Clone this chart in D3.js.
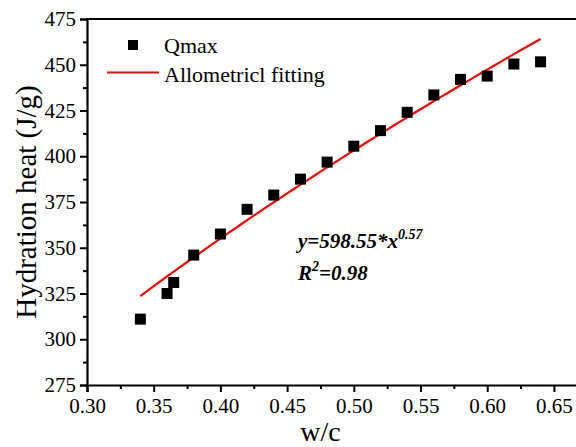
<!DOCTYPE html>
<html>
<head>
<meta charset="utf-8">
<script src="https://cdn.jsdelivr.net/npm/d3@7"></script>
<style>
  html, body { margin: 0; padding: 0; background: #fff; }
  svg { display: block; }
  svg text { font-family: "Liberation Serif", "Times New Roman", serif !important; fill: #000; }
</style>
</head>
<body>
<script>
// Water/cement ratio and the measured maximum hydration heat
const wc = [0.34, 0.36, 0.365, 0.38, 0.40, 0.42, 0.44, 0.46, 0.48, 0.50, 0.52, 0.54, 0.56, 0.58, 0.60, 0.62, 0.64];
const qmax = [311, 325, 331, 346, 357.5, 371, 378.8, 387.5, 396.8, 405.5, 414, 424, 433.5, 442, 443.8, 450.4, 451.6];

// Allometric fit y = a * x^b
const fitA = 598.55;
const fitB = 0.57;
const fitR2 = 0.98;
const fitRange = [0.34, 0.64];

const xTicks = [0.30, 0.35, 0.40, 0.45, 0.50, 0.55, 0.60, 0.65];
const yTicks = [275, 300, 325, 350, 375, 400, 425, 450, 475];

const W = 576, H = 447;
const FONT = "'Liberation Serif', 'Times New Roman', serif";
const svg = d3.select("body").append("svg").attr("width", W).attr("height", H)
  .attr("font-family", FONT);

const x = d3.scaleLinear().domain([0.30, 0.67]).range([87, 580.6]);
const y = d3.scaleLinear().domain([275, 475]).range([385, 19]);

// minor ticks
const xMinor = d3.range(0.325, 0.67, 0.05);
const yMinor = d3.range(287.5, 475, 25);

const gx = svg.append("g").attr("transform", `translate(0,${y(275)})`);
gx.call(d3.axisBottom(x).tickValues(xTicks).tickFormat(d3.format(".2f")).tickSize(7).tickPadding(6));
const gxm = svg.append("g").attr("transform", `translate(0,${y(275)})`);
gxm.call(d3.axisBottom(x).tickValues(xMinor).tickFormat("").tickSize(4));
gxm.select(".domain").remove();

const gy = svg.append("g").attr("transform", `translate(${x(0.30)},0)`);
gy.call(d3.axisLeft(y).tickValues(yTicks).tickSize(7).tickPadding(4));
const gym = svg.append("g").attr("transform", `translate(${x(0.30)},0)`);
gym.call(d3.axisLeft(y).tickValues(yMinor).tickFormat("").tickSize(4));
gym.select(".domain").remove();

svg.selectAll("g").attr("font-family", FONT);
svg.selectAll(".domain").attr("stroke-width", 2.2).attr("stroke", "#000");
svg.selectAll(".tick line").attr("stroke-width", 2).attr("stroke", "#000");
svg.selectAll(".tick text").attr("font-size", 21).attr("font-family", FONT);

// top frame
svg.append("line")
  .attr("x1", x(0.30) - 1).attr("x2", W)
  .attr("y1", y(475)).attr("y2", y(475))
  .attr("stroke", "#000").attr("stroke-width", 2.2);

// fitted curve
const fitX = d3.range(fitRange[0], fitRange[1] + 1e-9, 0.005);
const line = d3.line().x(d => x(d)).y(d => y(fitA * Math.pow(d, fitB)));
svg.append("path").datum(fitX).attr("d", line)
  .attr("fill", "none").attr("stroke", "#ff0000").attr("stroke-width", 2.2);

// measured points
const S = 11;
svg.append("g").selectAll("rect").data(wc).join("rect")
  .attr("x", (d) => x(d) - S / 2)
  .attr("y", (d, i) => y(qmax[i]) - S / 2)
  .attr("width", S).attr("height", S).attr("fill", "#000");

// legend
svg.append("rect").attr("x", 128).attr("y", 40).attr("width", 10).attr("height", 10).attr("fill", "#000");
svg.append("text").attr("x", 164).attr("y", 53).attr("font-size", 22).text("Qmax");
svg.append("line").attr("x1", 107).attr("x2", 159).attr("y1", 72.5).attr("y2", 72.5)
  .attr("stroke", "#ff0000").attr("stroke-width", 2.2);
svg.append("text").attr("x", 164).attr("y", 82).attr("font-size", 22).text("Allometricl fitting");

// equation
const eq = svg.append("text").attr("x", 298).attr("y", 248)
  .attr("font-size", 21).attr("font-weight", "bold").attr("font-style", "italic");
eq.append("tspan").text(`y=${fitA}*x`);
eq.append("tspan").attr("dy", -9).attr("font-size", 14).text(fitB);
const r2 = svg.append("text").attr("x", 298).attr("y", 280)
  .attr("font-size", 21).attr("font-weight", "bold").attr("font-style", "italic");
r2.append("tspan").text("R");
r2.append("tspan").attr("dy", -9).attr("font-size", 14).text("2");
r2.append("tspan").attr("dy", 9).text(`=${fitR2}`);

// axis titles
svg.append("text").attr("x", x(0.475)).attr("y", 441).attr("text-anchor", "middle")
  .attr("font-size", 28).text("w/c");
svg.append("text").attr("transform", `translate(36,${(19 + 385) / 2}) rotate(-90)`)
  .attr("text-anchor", "middle").attr("font-size", 29).text("Hydration heat (J/g)");
</script>
</body>
</html>
